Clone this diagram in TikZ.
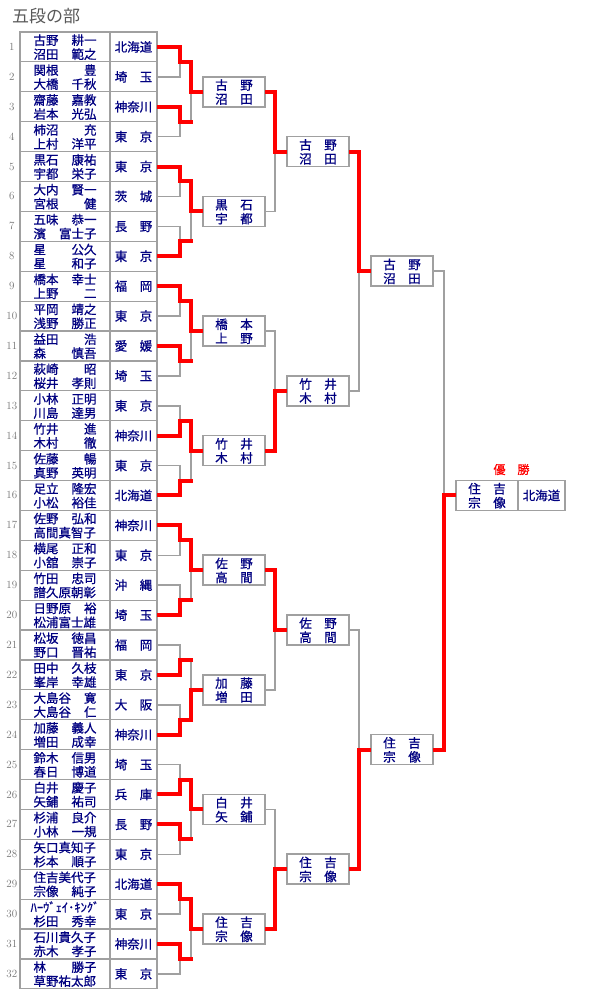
\documentclass[tikz,border=0pt]{standalone}
\usepackage{fontspec}
\usepackage{tikz}
\usetikzlibrary{positioning}
\newfontfamily\jfont{Noto Sans CJK JP}
\newfontfamily\jnamefont[FakeBold=0.8]{Noto Sans CJK JP}
\definecolor{namecol}{HTML}{000080}
\definecolor{winred}{HTML}{FF0000}
\definecolor{edgegray}{HTML}{A0A0A0}
\colorlet{numgray}{black!55}
\colorlet{titlegray}{black!65}

\begin{document}
\begin{tikzpicture}[
      x=1pt, y=-1pt, label distance=1pt,
      namecell/.style={draw=edgegray, line width=1.2pt, minimum width=90pt,
                  minimum height=29.9pt, text width=63pt, inner xsep=13.5pt,
                  inner ysep=0pt, outer sep=0pt, text height=11pt, text depth=15pt,
                  align=left, text=namecol,
                  font=\jnamefont\fontsize{12.5}{14}\selectfont},
      prefcell/.style={namecell, minimum width=47pt, text width=37.5pt,
                  inner xsep=4.75pt, text height=11pt, text depth=1.5pt},
      rbox/.style={namecell, line width=1.5pt, fill=white, minimum width=62pt,
                  minimum height=30pt, text width=37.5pt, inner xsep=12.25pt},
      num/.style={font=\fontsize{11}{11}\selectfont, text=numgray,
                  text width=14pt, align=center, inner sep=0pt},
      win/.style={draw=winred, line width=4pt, line cap=rect},
      lose/.style={draw=edgegray, line width=1.5pt}
    ]
    \useasboundingbox (0,0) rectangle (600,1000);
    \node[anchor=west, inner sep=0pt, text=titlegray,
          font=\jfont\fontsize{17}{17}\selectfont] (title) at (12,16) {五段の部};

    \node[namecell, label={[num]left:1}] (p1) at (65,46.95) {古野\hfill 耕一\\沼田\hfill 範之};
    \node[namecell, label={[num]left:2}, below=0pt of p1] (p2) {関根\hfill 豊\\大橋\hfill 千秋};
    \node[namecell, label={[num]left:3}, below=0pt of p2] (p3) {齋藤\hfill 嘉教\\岩本\hfill 光弘};
    \node[namecell, label={[num]left:4}, below=0pt of p3] (p4) {柿沼\hfill 充\\上村\hfill 洋平};
    \node[namecell, label={[num]left:5}, below=0pt of p4] (p5) {黒石\hfill 康祐\\宇都\hfill 栄子};
    \node[namecell, label={[num]left:6}, below=0pt of p5] (p6) {大内\hfill 賢一\\宮根\hfill 健};
    \node[namecell, label={[num]left:7}, below=0pt of p6] (p7) {五味\hfill 恭一\\濱\hfill 富士子};
    \node[namecell, label={[num]left:8}, below=0pt of p7] (p8) {星\hfill 公久\\星\hfill 和子};
    \node[namecell, label={[num]left:9}, below=0pt of p8] (p9) {橋本\hfill 幸士\\上野\hfill 二};
    \node[namecell, label={[num]left:10}, below=0pt of p9] (p10) {平岡\hfill 靖之\\浅野\hfill 勝正};
    \node[namecell, label={[num]left:11}, below=0pt of p10] (p11) {益田\hfill 浩\\森\hfill 慎吾};
    \node[namecell, label={[num]left:12}, below=0pt of p11] (p12) {萩崎\hfill 昭\\桜井\hfill 孝則};
    \node[namecell, label={[num]left:13}, below=0pt of p12] (p13) {小林\hfill 正明\\川島\hfill 達男};
    \node[namecell, label={[num]left:14}, below=0pt of p13] (p14) {竹井\hfill 進\\木村\hfill 徹};
    \node[namecell, label={[num]left:15}, below=0pt of p14] (p15) {佐藤\hfill 暢\\真野\hfill 英明};
    \node[namecell, label={[num]left:16}, below=0pt of p15] (p16) {足立\hfill 隆宏\\小松\hfill 裕佳};
    \node[namecell, label={[num]left:17}, below=0pt of p16] (p17) {佐野\hfill 弘和\\高間真智子};
    \node[namecell, label={[num]left:18}, below=0pt of p17] (p18) {横尾\hfill 正和\\小舘\hfill 崇子};
    \node[namecell, label={[num]left:19}, below=0pt of p18] (p19) {竹田\hfill 忠司\\譜久原朝彰};
    \node[namecell, label={[num]left:20}, below=0pt of p19] (p20) {日野原\hfill 裕\\松浦富士雄};
    \node[namecell, label={[num]left:21}, below=0pt of p20] (p21) {松坂\hfill 徳昌\\野口\hfill 晋祐};
    \node[namecell, label={[num]left:22}, below=0pt of p21] (p22) {田中\hfill 久枝\\峯岸\hfill 幸雄};
    \node[namecell, label={[num]left:23}, below=0pt of p22] (p23) {大島谷\hfill 寛\\大島谷\hfill 仁};
    \node[namecell, label={[num]left:24}, below=0pt of p23] (p24) {加藤\hfill 義人\\増田\hfill 成幸};
    \node[namecell, label={[num]left:25}, below=0pt of p24] (p25) {鈴木\hfill 信男\\春日\hfill 博道};
    \node[namecell, label={[num]left:26}, below=0pt of p25] (p26) {白井\hfill 慶子\\矢鋪\hfill 祐司};
    \node[namecell, label={[num]left:27}, below=0pt of p26] (p27) {杉浦\hfill 良介\\小林\hfill 一規};
    \node[namecell, label={[num]left:28}, below=0pt of p27] (p28) {矢口真知子\\杉本\hfill 順子};
    \node[namecell, label={[num]left:29}, below=0pt of p28] (p29) {住吉美代子\\宗像\hfill 純子};
    \node[namecell, label={[num]left:30}, below=0pt of p29] (p30) {\makebox[63pt][c]{ﾊｰｳﾞｪｲ･ｷﾝｸﾞ}\\杉田\hfill 秀幸};
    \node[namecell, label={[num]left:31}, below=0pt of p30] (p31) {石川貴久子\\赤木\hfill 孝子};
    \node[namecell, label={[num]left:32}, below=0pt of p31] (p32) {林\hfill 勝子\\草野祐太郎};

    \node[prefcell, right=0pt of p1] (f1) {北海道};
    \node[prefcell, right=0pt of p2] (f2) {埼\hfill 玉};
    \node[prefcell, right=0pt of p3] (f3) {神奈川};
    \node[prefcell, right=0pt of p4] (f4) {東\hfill 京};
    \node[prefcell, right=0pt of p5] (f5) {東\hfill 京};
    \node[prefcell, right=0pt of p6] (f6) {茨\hfill 城};
    \node[prefcell, right=0pt of p7] (f7) {長\hfill 野};
    \node[prefcell, right=0pt of p8] (f8) {東\hfill 京};
    \node[prefcell, right=0pt of p9] (f9) {福\hfill 岡};
    \node[prefcell, right=0pt of p10] (f10) {東\hfill 京};
    \node[prefcell, right=0pt of p11] (f11) {愛\hfill 媛};
    \node[prefcell, right=0pt of p12] (f12) {埼\hfill 玉};
    \node[prefcell, right=0pt of p13] (f13) {東\hfill 京};
    \node[prefcell, right=0pt of p14] (f14) {神奈川};
    \node[prefcell, right=0pt of p15] (f15) {東\hfill 京};
    \node[prefcell, right=0pt of p16] (f16) {北海道};
    \node[prefcell, right=0pt of p17] (f17) {神奈川};
    \node[prefcell, right=0pt of p18] (f18) {東\hfill 京};
    \node[prefcell, right=0pt of p19] (f19) {沖\hfill 縄};
    \node[prefcell, right=0pt of p20] (f20) {埼\hfill 玉};
    \node[prefcell, right=0pt of p21] (f21) {福\hfill 岡};
    \node[prefcell, right=0pt of p22] (f22) {東\hfill 京};
    \node[prefcell, right=0pt of p23] (f23) {大\hfill 阪};
    \node[prefcell, right=0pt of p24] (f24) {神奈川};
    \node[prefcell, right=0pt of p25] (f25) {埼\hfill 玉};
    \node[prefcell, right=0pt of p26] (f26) {兵\hfill 庫};
    \node[prefcell, right=0pt of p27] (f27) {長\hfill 野};
    \node[prefcell, right=0pt of p28] (f28) {東\hfill 京};
    \node[prefcell, right=0pt of p29] (f29) {北海道};
    \node[prefcell, right=0pt of p30] (f30) {東\hfill 京};
    \node[prefcell, right=0pt of p31] (f31) {神奈川};
    \node[prefcell, right=0pt of p32] (f32) {東\hfill 京};

    \coordinate (a1) at (180,61.9);   \coordinate (a2) at (180,121.7);
    \coordinate (a3) at (180,181.5);  \coordinate (a4) at (180,241.3);
    \coordinate (a5) at (180,301.1);  \coordinate (a6) at (180,360.9);
    \coordinate (a7) at (180,420.7);  \coordinate (a8) at (180,480.5);
    \coordinate (a9) at (180,540.3);  \coordinate (a10) at (180,600.1);
    \coordinate (a11) at (180,659.9); \coordinate (a12) at (180,719.7);
    \coordinate (a13) at (180,779.5); \coordinate (a14) at (180,839.3);
    \coordinate (a15) at (180,899.1); \coordinate (a16) at (180,958.9);

    \node[rbox] (b1) at (234,91.8) {古\hfill 野\\沼\hfill 田};
    \node[rbox] (b2) at (234,211.4) {黒\hfill 石\\宇\hfill 都};
    \node[rbox] (b3) at (234,331) {橋\hfill 本\\上\hfill 野};
    \node[rbox] (b4) at (234,450.6) {竹\hfill 井\\木\hfill 村};
    \node[rbox] (b5) at (234,570.2) {佐\hfill 野\\高\hfill 間};
    \node[rbox] (b6) at (234,689.8) {加\hfill 藤\\増\hfill 田};
    \node[rbox] (b7) at (234,809.4) {白\hfill 井\\矢\hfill 鋪};
    \node[rbox] (b8) at (234,929) {住\hfill 吉\\宗\hfill 像};
    \node[rbox] (c1) at (318,151.6) {古\hfill 野\\沼\hfill 田};
    \node[rbox] (c2) at (318,390.8) {竹\hfill 井\\木\hfill 村};
    \node[rbox] (c3) at (318,630) {佐\hfill 野\\高\hfill 間};
    \node[rbox] (c4) at (318,869.2) {住\hfill 吉\\宗\hfill 像};
    \node[rbox] (d1) at (402,271.2) {古\hfill 野\\沼\hfill 田};
    \node[rbox] (d2) at (402,749.6) {住\hfill 吉\\宗\hfill 像};
    \node[rbox] (w) at (487,495.45) {住\hfill 吉\\宗\hfill 像};
    \node[rbox, right=0pt of w, minimum width=47pt, inner xsep=4.75pt,
          text height=11pt, text depth=1.5pt] (wf) {北海道};
    \node[text=winred, font=\jnamefont\fontsize{12}{12}\selectfont] (yusho) at (511.5,469.5) {優　勝};

    \draw[lose] (f2.east) -| (a1);  \draw[lose] (f4.east) -| (a2);
    \draw[lose] (f6.east) -| (a3);  \draw[lose] (f7.east) -| (a4);
    \draw[lose] (f10.east) -| (a5); \draw[lose] (f12.east) -| (a6);
    \draw[lose] (f13.east) -| (a7); \draw[lose] (f15.east) -| (a8);
    \draw[lose] (f18.east) -| (a9); \draw[lose] (f19.east) -| (a10);
    \draw[lose] (f21.east) -| (a11); \draw[lose] (f23.east) -| (a12);
    \draw[lose] (f25.east) -| (a13); \draw[lose] (f28.east) -| (a14);
    \draw[lose] (f30.east) -| (a15); \draw[lose] (f32.east) -| (a16);
    \draw[lose] ([xshift=11pt]a2) |- (b1.west);  \draw[lose] ([xshift=11pt]a4) |- (b2.west);
    \draw[lose] ([xshift=11pt]a6) |- (b3.west);  \draw[lose] ([xshift=11pt]a8) |- (b4.west);
    \draw[lose] ([xshift=11pt]a10) |- (b5.west); \draw[lose] ([xshift=11pt]a11) |- (b6.west);
    \draw[lose] ([xshift=11pt]a14) |- (b7.west); \draw[lose] ([xshift=11pt]a16) |- (b8.west);
    \draw[lose] (b2.east) -| ([xshift=-12pt]c1.west);
    \draw[lose] (b3.east) -| ([xshift=-12pt]c2.west);
    \draw[lose] (b6.east) -| ([xshift=-12pt]c3.west);
    \draw[lose] (b7.east) -| ([xshift=-12pt]c4.west);
    \draw[lose] (c2.east) -| ([xshift=-12pt]d1.west);
    \draw[lose] (c3.east) -| ([xshift=-12pt]d2.west);
    \draw[lose] (d1.east) -| ([xshift=-12pt]w.west);

    \draw[win, shorten <=2pt] (f1.east) -| (a1);  \draw[win, shorten <=2pt] (f3.east) -| (a2);
    \draw[win, shorten <=2pt] (f5.east) -| (a3);  \draw[win, shorten <=2pt] (f8.east) -| (a4);
    \draw[win, shorten <=2pt] (f9.east) -| (a5);  \draw[win, shorten <=2pt] (f11.east) -| (a6);
    \draw[win, shorten <=2pt] (f14.east) -| (a7); \draw[win, shorten <=2pt] (f16.east) -| (a8);
    \draw[win, shorten <=2pt] (f17.east) -| (a9); \draw[win, shorten <=2pt] (f20.east) -| (a10);
    \draw[win, shorten <=2pt] (f22.east) -| (a11); \draw[win, shorten <=2pt] (f24.east) -| (a12);
    \draw[win, shorten <=2pt] (f26.east) -| (a13); \draw[win, shorten <=2pt] (f27.east) -| (a14);
    \draw[win, shorten <=2pt] (f29.east) -| (a15); \draw[win, shorten <=2pt] (f31.east) -| (a16);
    \draw[win] (a2) -- ++(11,0);  \draw[win] (a4) -- ++(11,0);
    \draw[win] (a6) -- ++(11,0);  \draw[win] (a8) -- ++(11,0);
    \draw[win] (a10) -- ++(11,0); \draw[win] (a11) -- ++(11,0);
    \draw[win] (a14) -- ++(11,0); \draw[win] (a16) -- ++(11,0);
    \draw[win, shorten >=2pt] (a1) -- ++(11,0) |- (b1.west);
    \draw[win, shorten >=2pt] (a3) -- ++(11,0) |- (b2.west);
    \draw[win, shorten >=2pt] (a5) -- ++(11,0) |- (b3.west);
    \draw[win, shorten >=2pt] (a7) -- ++(11,0) |- (b4.west);
    \draw[win, shorten >=2pt] (a9) -- ++(11,0) |- (b5.west);
    \draw[win, shorten >=2pt] (a12) -- ++(11,0) |- (b6.west);
    \draw[win, shorten >=2pt] (a13) -- ++(11,0) |- (b7.west);
    \draw[win, shorten >=2pt] (a15) -- ++(11,0) |- (b8.west);
    \draw[win, shorten <=2pt, shorten >=2pt] (b1.east) -| ([xshift=-12pt]c1.west) -- (c1.west);
    \draw[win, shorten <=2pt, shorten >=2pt] (b4.east) -| ([xshift=-12pt]c2.west) -- (c2.west);
    \draw[win, shorten <=2pt, shorten >=2pt] (b5.east) -| ([xshift=-12pt]c3.west) -- (c3.west);
    \draw[win, shorten <=2pt, shorten >=2pt] (b8.east) -| ([xshift=-12pt]c4.west) -- (c4.west);
    \draw[win, shorten <=2pt, shorten >=2pt] (c1.east) -| ([xshift=-12pt]d1.west) -- (d1.west);
    \draw[win, shorten <=2pt, shorten >=2pt] (c4.east) -| ([xshift=-12pt]d2.west) -- (d2.west);
    \draw[win, shorten <=2pt, shorten >=2pt] (d2.east) -| ([xshift=-12pt]w.west) -- (w.west);
  \end{tikzpicture}
\end{document}
